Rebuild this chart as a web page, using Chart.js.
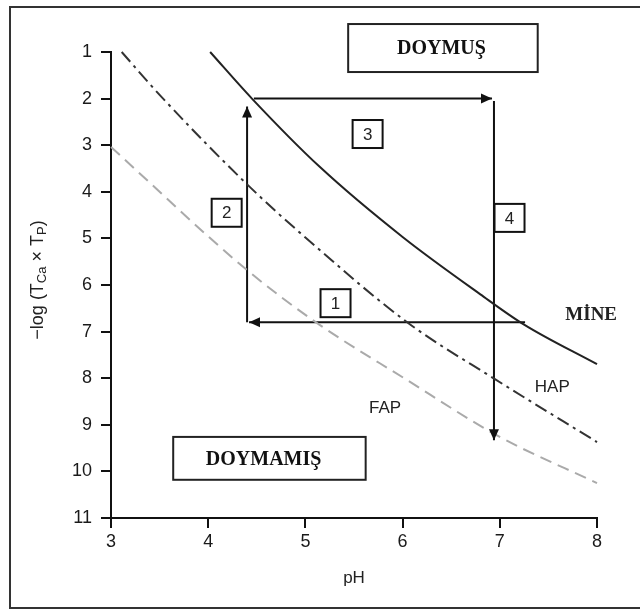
<!DOCTYPE html>
<html>
<head>
<meta charset="utf-8">
<script src="https://cdn.jsdelivr.net/npm/chart.js@4.4.1/dist/chart.umd.min.js"></script>
<style>
  html, body { margin: 0; padding: 0; background: #fff; }
  #wrap { width: 640px; height: 610px; position: relative; }
</style>
</head>
<body>
<div id="wrap"><canvas id="my-chart"></canvas></div>
<script>
// ===== data =====
const mineX = [4.02, 4.45, 5.15, 6.0, 6.8, 7.25, 8.0]
const mineY = [1.0, 2.0, 3.47, 4.97, 6.2, 6.85, 7.7]

const hapX = [3.11, 3.5, 4.43, 5.0, 6.06, 6.95, 8.0]
const hapY = [1.0, 1.92, 3.9, 4.98, 6.82, 8.02, 9.37]

const fapX = [3.0, 4.4, 5.15, 6.0, 7.0, 8.0]
const fapY = [3.04, 5.68, 6.86, 7.98, 9.26, 10.25]

// cycle arrows 1..4 (start -> tip)
const arrowFromX = [7.26, 4.40, 4.47, 6.94]
const arrowFromY = [6.8, 6.8, 2.0, 2.05]
const arrowToX = [4.42, 4.40, 6.92, 6.94]
const arrowToY = [6.8, 2.17, 2.0, 9.33]

// tick labels
const xTicks = [3, 4, 5, 6, 7, 8]
const yTicks = [1, 2, 3, 4, 5, 6, 7, 8, 9, 10, 11]

const toPoints = (xs, ys) => xs.map((x, i) => ({ x: x, y: ys[i] }))

// ===== decorations (placed in data units) =====
const numberBoxes = [
    { text: '1', x: 5.31, y: 6.39 },
    { text: '2', x: 4.19, y: 4.45 },
    { text: '3', x: 5.64, y: 2.76 },
    { text: '4', x: 7.10, y: 4.56 }
]
const curveLabels = [
    { text: 'MİNE', x: 7.94, y: 6.64, font: 'bold 19px "Liberation Serif"' },
    { text: 'HAP', x: 7.54, y: 8.19, font: '17px "Liberation Sans"' },
    { text: 'FAP', x: 5.82, y: 8.64, font: '17px "Liberation Sans"' }
]
const regionBoxes = [
    { text: 'DOYMUŞ', x0: 5.44, x1: 7.39, y0: 0.40, y1: 1.43, tx: 6.40 },
    { text: 'DOYMAMIŞ', x0: 3.64, x1: 5.62, y0: 9.26, y1: 10.18, tx: 4.57 }
]

// draws frame, boxes, arrowheads and texts on top of the library's lines
const decorPlugin = {
    id: 'decor',
    beforeDraw(chart) {
        const ctx = chart.ctx
        ctx.save()
        ctx.fillStyle = '#fff'
        ctx.fillRect(0, 0, chart.width, chart.height)
        ctx.strokeStyle = '#333'
        ctx.lineWidth = 2
        ctx.beginPath()
        ctx.moveTo(640, 7)
        ctx.lineTo(10, 7)
        ctx.lineTo(10, 608)
        ctx.lineTo(640, 608)
        ctx.stroke()
        ctx.restore()
    },
    afterDatasetsDraw(chart) {
        const ctx = chart.ctx
        const sx = chart.scales.x, sy = chart.scales.y
        const px = v => sx.getPixelForValue(v)
        const py = v => sy.getPixelForValue(v)
        ctx.save()

        // arrow heads
        ctx.fillStyle = '#111'
        for (let i = 0; i < arrowToX.length; i++) {
            const x1 = px(arrowToX[i]), y1 = py(arrowToY[i])
            const x0 = px(arrowFromX[i]), y0 = py(arrowFromY[i])
            const a = Math.atan2(y1 - y0, x1 - x0)
            const len = 11, half = 5
            ctx.beginPath()
            ctx.moveTo(x1, y1)
            ctx.lineTo(x1 - len * Math.cos(a) + half * Math.sin(a), y1 - len * Math.sin(a) - half * Math.cos(a))
            ctx.lineTo(x1 - len * Math.cos(a) - half * Math.sin(a), y1 - len * Math.sin(a) + half * Math.cos(a))
            ctx.closePath()
            ctx.fill()
        }

        // numbered boxes
        ctx.textAlign = 'center'
        ctx.textBaseline = 'middle'
        numberBoxes.forEach(b => {
            const cx = px(b.x), cy = py(b.y)
            ctx.fillStyle = '#fff'
            ctx.fillRect(cx - 15, cy - 14, 30, 28)
            ctx.strokeStyle = '#111'
            ctx.lineWidth = 2
            ctx.strokeRect(cx - 15, cy - 14, 30, 28)
            ctx.fillStyle = '#222'
            ctx.font = '17px "Liberation Sans"'
            ctx.fillText(b.text, cx, cy + 1)
        })

        // curve names
        curveLabels.forEach(l => {
            ctx.fillStyle = '#222'
            ctx.font = l.font
            ctx.fillText(l.text, px(l.x), py(l.y))
        })

        // saturated / unsaturated boxes
        regionBoxes.forEach(r => {
            const left = px(r.x0), right = px(r.x1), top = py(r.y0), bottom = py(r.y1)
            ctx.strokeStyle = '#222'
            ctx.lineWidth = 2
            ctx.strokeRect(left, top, right - left, bottom - top)
            ctx.fillStyle = '#111'
            ctx.font = 'bold 20px "Liberation Serif"'
            ctx.fillText(r.text, px(r.tx), (top + bottom) / 2 + 1)
        })

        // y axis title with subscripts
        ctx.translate(38, 280)
        ctx.rotate(-Math.PI / 2)
        const parts = [
            ['−log (T', '18px "Liberation Sans"', 0],
            ['Ca', '13px "Liberation Sans"', 4],
            [' × T', '18px "Liberation Sans"', 0],
            ['P', '13px "Liberation Sans"', 4],
            [')', '18px "Liberation Sans"', 0]
        ]
        let total = 0
        parts.forEach(p => { ctx.font = p[1]; total += ctx.measureText(p[0]).width })
        let cur = -total / 2
        ctx.textAlign = 'left'
        ctx.fillStyle = '#222'
        parts.forEach(p => {
            ctx.font = p[1]
            ctx.fillText(p[0], cur, p[2])
            cur += ctx.measureText(p[0]).width
        })
        ctx.restore()
    }
}

const curveStyle = {
    showLine: true,
    pointRadius: 0,
    borderWidth: 2,
    fill: false,
    cubicInterpolationMode: 'monotone',
    clip: false
}

const datasets = [
    { ...curveStyle, label: 'MİNE', data: toPoints(mineX, mineY), borderColor: '#222' },
    { ...curveStyle, label: 'HAP', data: toPoints(hapX, hapY), borderColor: '#333', borderDash: [13, 5, 3, 5] },
    { ...curveStyle, label: 'FAP', data: toPoints(fapX, fapY), borderColor: '#aaa', borderDash: [12, 7] }
]
for (let i = 0; i < arrowFromX.length; i++) {
    datasets.push({
        label: 'arrow ' + (i + 1),
        data: [{ x: arrowFromX[i], y: arrowFromY[i] }, { x: arrowToX[i], y: arrowToY[i] }],
        showLine: true,
        pointRadius: 0,
        borderWidth: 2,
        borderColor: '#111',
        tension: 0,
        clip: false
    })
}

const tickFont = { family: 'Liberation Sans', size: 18 }

new Chart(document.getElementById('my-chart'), {
    type: 'scatter',
    data: { datasets: datasets },
    options: {
        responsive: true,
        maintainAspectRatio: false,
        animation: false,
        events: [],
        layout: { padding: { top: 52, right: 43, left: 0, bottom: 0 } },
        plugins: { legend: { display: false }, tooltip: { enabled: false } },
        scales: {
            x: {
                type: 'linear',
                min: xTicks[0],
                max: xTicks[xTicks.length - 1],
                afterFit: s => { s.height = 92 },
                afterBuildTicks: s => { s.ticks = xTicks.map(v => ({ value: v })) },
                ticks: { color: '#1a1a1a', font: tickFont, padding: 3 },
                grid: { drawOnChartArea: false, drawTicks: true, tickLength: 10, color: '#111', lineWidth: 2 },
                border: { display: true, color: '#111', width: 2 },
                title: { display: true, text: 'pH', color: '#222', font: { family: 'Liberation Sans', size: 17 }, padding: { top: 0, bottom: 21 } }
            },
            y: {
                type: 'linear',
                reverse: true,
                min: yTicks[0],
                max: yTicks[yTicks.length - 1],
                afterFit: s => { s.width = 111 },
                afterBuildTicks: s => { s.ticks = yTicks.map(v => ({ value: v })) },
                ticks: { color: '#1a1a1a', font: tickFont, padding: 9 },
                grid: { drawOnChartArea: false, drawTicks: true, tickLength: 10, color: '#111', lineWidth: 2 },
                border: { display: true, color: '#111', width: 2 }
            }
        }
    },
    plugins: [decorPlugin]
})
</script>
</body>
</html>
